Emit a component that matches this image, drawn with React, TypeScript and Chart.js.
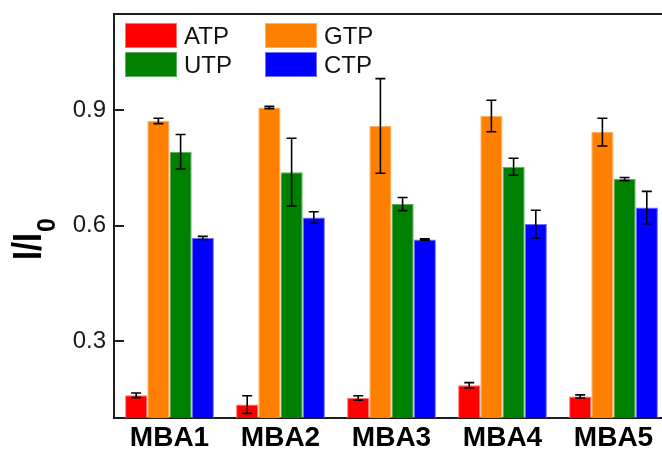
import React, { useEffect, useRef } from "react";
import { Chart, registerables } from "chart.js";

Chart.register(...registerables);

const categories = ["MBA1", "MBA2", "MBA3", "MBA4", "MBA5"];
const seriesNames = ["ATP", "GTP", "UTP", "CTP"];
const atp = [0.159, 0.135, 0.152, 0.185, 0.156];
const atpErr = [0.006, 0.023, 0.006, 0.007, 0.004];
const gtp = [0.872, 0.907, 0.859, 0.885, 0.843];
const gtpErr = [0.007, 0.003, 0.123, 0.041, 0.036];
const utp = [0.792, 0.739, 0.656, 0.753, 0.721];
const utpErr = [0.045, 0.088, 0.017, 0.022, 0.004];
const ctp = [0.568, 0.621, 0.564, 0.604, 0.647];
const ctpErr = [0.004, 0.015, 0.002, 0.036, 0.042];
const yTicks = [0.3, 0.6, 0.9];

const colors = ["#ff0000", "#ff8000", "#008000", "#0000ff"];
const edgeColors = ["#ff7070", "#ffb060", "#5fae5f", "#7070ff"];

const FONT = "'Liberation Sans', Arial, Helvetica, sans-serif";
const AXIS = "#1e1e1e";

const errorBars = {
  id: "errorBars",
  afterDatasetsDraw(chart: any) {
    const ctx = chart.ctx;
    const ys = chart.scales.y;
    ctx.save();
    ctx.strokeStyle = "#000";
    ctx.lineWidth = 1.6;
    chart.data.datasets.forEach((ds: any, di: number) => {
      const meta = chart.getDatasetMeta(di);
      meta.data.forEach((el: any, i: number) => {
        const v = ds.data[i];
        const e = ds.errors[i];
        const top = ys.getPixelForValue(v + e);
        const bot = ys.getPixelForValue(v - e);
        const x = el.x;
        const cw = 5;
        ctx.beginPath();
        ctx.moveTo(x, top);
        ctx.lineTo(x, bot);
        ctx.moveTo(x - cw, top);
        ctx.lineTo(x + cw, top);
        ctx.moveTo(x - cw, bot);
        ctx.lineTo(x + cw, bot);
        ctx.stroke();
      });
    });
    ctx.restore();
  },
};

const frame = {
  id: "frame",
  afterDraw(chart: any) {
    const ctx = chart.ctx;
    const a = chart.chartArea;
    const ys = chart.scales.y;
    ctx.save();
    // top border
    ctx.strokeStyle = AXIS;
    ctx.lineWidth = 2;
    ctx.beginPath();
    ctx.moveTo(a.left - 1, a.top);
    ctx.lineTo(chart.width, a.top);
    ctx.stroke();
    // inward ticks
    ys.ticks.forEach((t: any) => {
      const y = Math.round(ys.getPixelForValue(t.value));
      ctx.beginPath();
      ctx.moveTo(a.left, y);
      ctx.lineTo(a.left + 10, y);
      ctx.stroke();
    });
    // legend
    chart.data.datasets.forEach((ds: any, i: number) => {
      const col = i % 2;
      const row = Math.floor(i / 2);
      const bx = a.left + 11 + col * 140;
      const by = a.top + 9 + row * 29;
      ctx.fillStyle = ds.backgroundColor;
      ctx.fillRect(bx, by, 52, 25);
      ctx.strokeStyle = ds.borderColor;
      ctx.lineWidth = 1;
      ctx.strokeRect(bx + 0.5, by + 0.5, 51, 24);
      ctx.fillStyle = "#111";
      ctx.font = `24px ${FONT}`;
      ctx.textAlign = "left";
      ctx.textBaseline = "alphabetic";
      ctx.fillText(ds.label, bx + 59, by + 20.5);
    });
    // y title I/I0
    ctx.fillStyle = "#000";
    ctx.translate(41, 260);
    ctx.rotate(-Math.PI / 2);
    ctx.font = `bold 40px ${FONT}`;
    const main = "I/I";
    const w = ctx.measureText(main).width;
    const sx = 27 / w;
    ctx.save();
    ctx.scale(sx, 1);
    ctx.fillText(main, 0, 0);
    ctx.restore();
    ctx.font = `bold 25px ${FONT}`;
    ctx.fillText("0", 28, 14);
    ctx.restore();
  },
};

export default function App() {
  const ref = useRef<HTMLCanvasElement>(null);
  useEffect(() => {
    const values = [atp, gtp, utp, ctp];
    const errs = [atpErr, gtpErr, utpErr, ctpErr];
    const chart = new Chart(ref.current as HTMLCanvasElement, {
      type: "bar",
      data: {
        labels: categories,
        datasets: seriesNames.map((name, i) => ({
          label: name,
          data: values[i],
          errors: errs[i],
          backgroundColor: colors[i],
          borderColor: edgeColors[i],
          borderWidth: { top: 1, left: 1, right: 1, bottom: 0 },
          categoryPercentage: 0.8,
          barPercentage: 1.0,
        })) as any,
      },
      options: {
        responsive: false,
        animation: false,
        devicePixelRatio: 1,
        layout: { padding: { left: 0, top: 14, right: 3, bottom: 0 } },
        plugins: { legend: { display: false }, tooltip: { enabled: false } },
        scales: {
          x: {
            grid: { display: false, drawTicks: false },
            border: { display: true, color: AXIS, width: 2 },
            ticks: {
              color: "#000",
              padding: 3,
              font: { family: FONT, size: 28, weight: "bold" },
            },
            afterFit: (s: any) => {
              s.height = 32;
              s.paddingLeft = 0;
              s.paddingRight = 0;
            },
          },
          y: {
            min: 0.1,
            max: 1.15,
            grid: { display: true, drawOnChartArea: false, drawTicks: false },
            border: { display: true, color: AXIS, width: 2 },
            ticks: {
              color: "#1a1a1a",
              padding: 8,
              font: { family: FONT, size: 24 },
              callback: (v: any) => Number(v).toFixed(1),
            },
            afterBuildTicks: (s: any) => {
              s.ticks = yTicks.map((v) => ({ value: v }));
            },
            afterFit: (s: any) => {
              s.width = 114;
              s.paddingTop = 0;
              s.paddingBottom = 0;
            },
          },
        },
      },
      plugins: [errorBars, frame],
    });
    return () => chart.destroy();
  }, []);
  return (
    <div
      style={{
        position: "fixed",
        left: 0,
        top: 0,
        width: 662,
        height: 450,
        overflow: "hidden",
        background: "#fff",
      }}
    >
      <canvas ref={ref} width={672} height={450} style={{ width: 672, height: 450, display: "block" }} />
    </div>
  );
}
